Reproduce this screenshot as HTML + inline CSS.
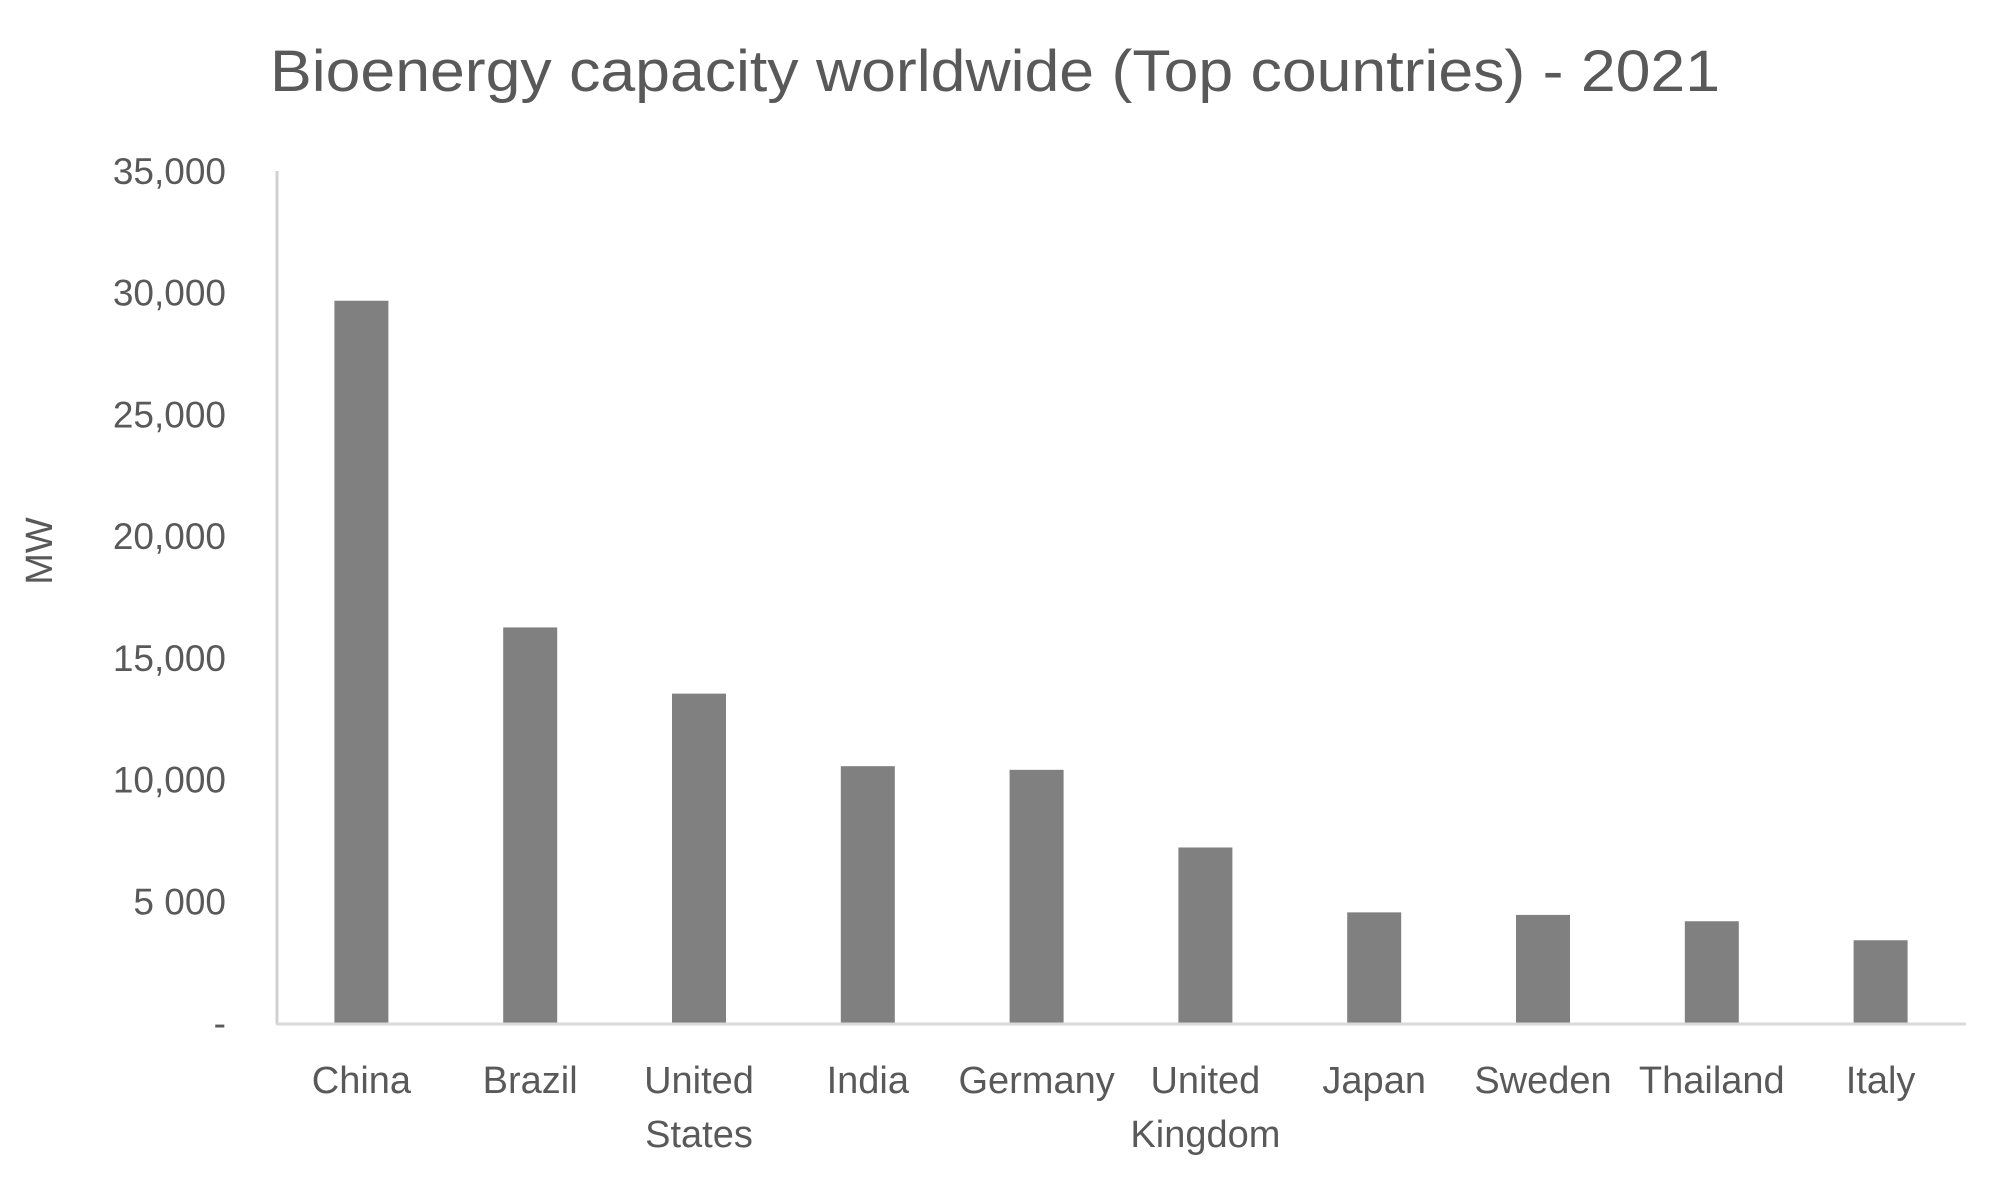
<!DOCTYPE html>
<html><head><meta charset="utf-8"><style>
html,body{margin:0;padding:0;background:#fff;}
svg{display:block;font-family:"Liberation Sans",sans-serif;}
</style></head><body>
<svg id="chart" width="1995" height="1177" viewBox="0 0 1995 1177">
<text x="995" y="91" text-anchor="middle" font-size="58" fill="#595959" textLength="1450" lengthAdjust="spacingAndGlyphs">Bioenergy capacity worldwide (Top countries) - 2021</text>
<text transform="translate(52,551) rotate(-90)" text-anchor="middle" font-size="38" fill="#595959">MW</text>
<g id="yticks"></g>
<g id="bars"></g>
<g id="xlabels"></g>
<line x1="277" y1="171" x2="277" y2="1024" stroke="#d0d0d0" stroke-width="3"/>
<line x1="276" y1="1024" x2="1966" y2="1024" stroke="#d9d9d9" stroke-width="3"/>
</svg>
<script>
const categories = [["China"],["Brazil"],["United","States"],["India"],["Germany"],["United","Kingdom"],["Japan"],["Sweden"],["Thailand"],["Italy"]];
const values = [29670,16250,13530,10550,10400,7210,4545,4440,4180,3400];
const tickValues = [0,5000,10000,15000,20000,25000,30000,35000];
const tickLabels = ["-","5 000","10,000","15,000","20,000","25,000","30,000","35,000"];

const NS = "http://www.w3.org/2000/svg";
const x0 = 277, x1 = 1965, yBase = 1023, yTop = 171, yMax = 35000;
const band = (x1 - x0) / categories.length;
const barW = 54;
function y(v){ return yBase - v / yMax * (yBase - yTop); }
function xc(i){ return x0 + band * (i + 0.5); }

const yt = document.getElementById('yticks');
tickValues.forEach((v,i)=>{
  const t = document.createElementNS(NS,'text');
  t.setAttribute('x', 226);
  t.setAttribute('y', y(v) + 13);
  t.setAttribute('text-anchor','end');
  t.setAttribute('font-size','37');
  t.setAttribute('fill','#595959');
  
  
  t.textContent = tickLabels[i];
  yt.appendChild(t);
});

const bg = document.getElementById('bars');
const xl = document.getElementById('xlabels');
values.forEach((v,i)=>{
  const r = document.createElementNS(NS,'rect');
  r.setAttribute('x', xc(i) - barW/2);
  r.setAttribute('y', y(v));
  r.setAttribute('width', barW);
  r.setAttribute('height', yBase - y(v));
  r.setAttribute('fill', '#808080');
  
  
  bg.appendChild(r);
  categories[i].forEach((line,j)=>{
    const t = document.createElementNS(NS,'text');
    t.setAttribute('x', xc(i));
    t.setAttribute('y', 1093 + j*54);
    t.setAttribute('text-anchor','middle');
    t.setAttribute('font-size','38');
    t.setAttribute('fill','#595959');
    
    
    t.textContent = line;
    xl.appendChild(t);
  });
});
</script>
</body></html>
